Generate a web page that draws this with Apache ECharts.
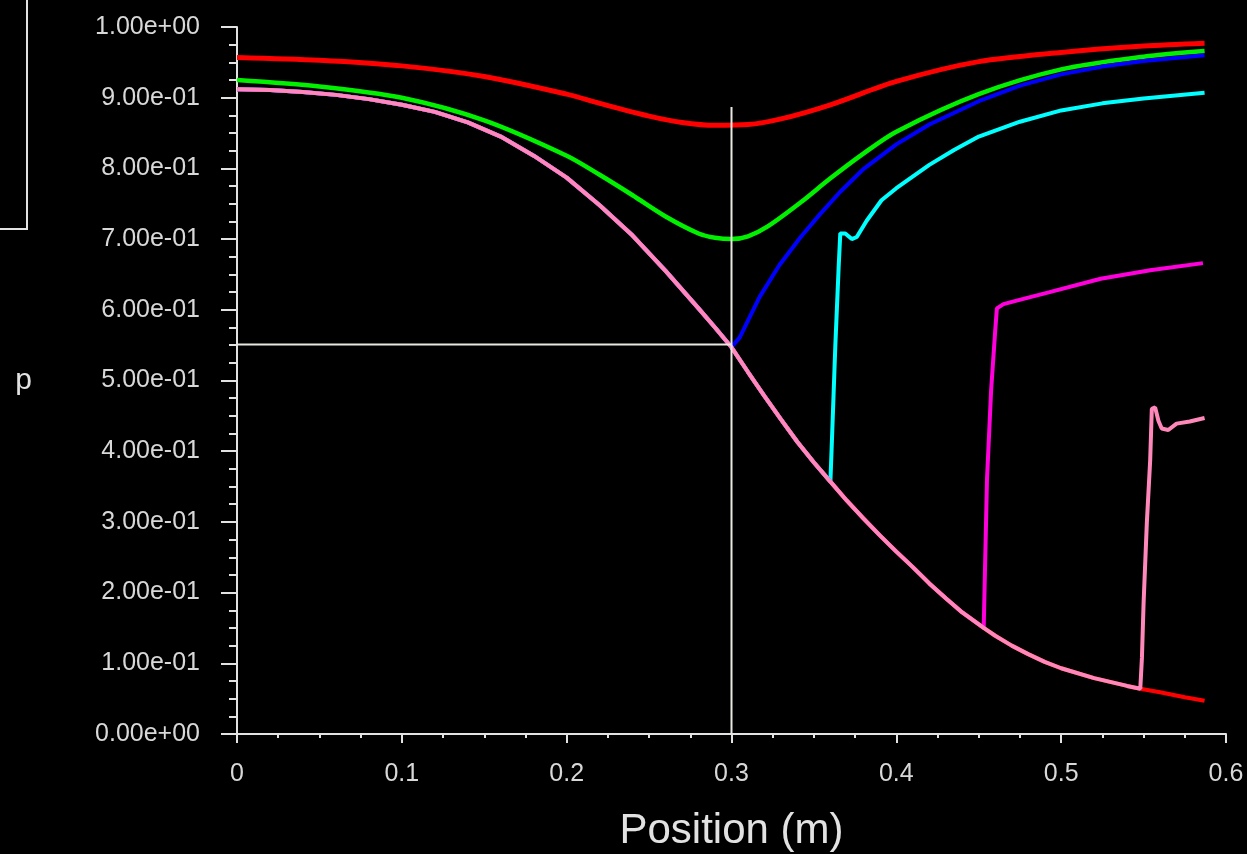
<!DOCTYPE html>
<html>
<head>
<meta charset="utf-8">
<script src="https://cdn.jsdelivr.net/npm/echarts@6/dist/echarts.min.js"></script>
<style>
html,body{margin:0;padding:0;background:#000;}
#chart{width:1247px;height:854px;}
</style>
</head>
<body>
<div id="chart"></div>
<script>
// ---- data (Position in m, p) ----
var xTickLabels = ['0', '0.1', '0.2', '0.3', '0.4', '0.5', '0.6'];
var yTickLabels = ['0.00e+00','1.00e-01','2.00e-01','3.00e-01','4.00e-01','5.00e-01',
                   '6.00e-01','7.00e-01','8.00e-01','9.00e-01','1.00e+00'];

// shared supersonic (lower) branch
var lowerBranch = [
  [0,0.912],[0.02,0.911],[0.04,0.908],[0.06,0.904],[0.08,0.898],[0.10,0.890],
  [0.12,0.880],[0.14,0.865],[0.16,0.845],[0.18,0.818],[0.20,0.787],[0.22,0.748],
  [0.24,0.705],[0.26,0.655],[0.28,0.602],[0.29,0.575],[0.30,0.547],[0.31,0.512],
  [0.32,0.478],[0.33,0.445],[0.34,0.413],[0.35,0.384],[0.36,0.357],[0.37,0.330],
  [0.38,0.305],[0.39,0.281],[0.40,0.258],[0.41,0.236],[0.42,0.213],[0.43,0.192],
  [0.44,0.172],[0.453,0.150],[0.46,0.139],[0.47,0.125],[0.48,0.113],[0.49,0.102],
  [0.50,0.093],[0.52,0.079],[0.54,0.068],[0.548,0.064],[0.56,0.059],
  [0.575,0.052],[0.587,0.047]
];

var redTop = [
  [0,0.957],[0.05,0.953],[0.10,0.945],[0.15,0.930],[0.20,0.905],[0.22,0.892],
  [0.25,0.874],[0.27,0.865],[0.29,0.861],[0.31,0.862],[0.33,0.870],[0.36,0.890],
  [0.40,0.923],[0.45,0.951],[0.50,0.964],[0.55,0.973],[0.587,0.977]
];

var green = [
  [0,0.925],[0.05,0.916],[0.10,0.900],[0.15,0.868],[0.20,0.818],[0.22,0.791],
  [0.24,0.762],[0.26,0.732],[0.28,0.708],[0.29,0.702],[0.30,0.700],[0.31,0.704],
  [0.322,0.718],[0.342,0.752],[0.36,0.786],[0.38,0.821],[0.40,0.852],
  [0.45,0.905],[0.50,0.940],[0.55,0.958],[0.587,0.966]
];

var blueUpper = [
  [0.305,0.561],[0.317,0.618],[0.329,0.663],[0.342,0.703],[0.354,0.736],
  [0.366,0.767],[0.38,0.799],[0.40,0.834],[0.42,0.862],
  [0.45,0.895],[0.475,0.917],[0.50,0.933],[0.525,0.944],[0.55,0.952],[0.587,0.960]
];

var cyanUpper = [
  [0.361,0.420],[0.363,0.550],[0.365,0.660],[0.366,0.708],[0.369,0.708],
  [0.373,0.700],[0.376,0.703],[0.382,0.726],[0.391,0.755],[0.40,0.772],
  [0.42,0.805],[0.435,0.826],[0.45,0.845],[0.475,0.866],[0.50,0.882],
  [0.525,0.892],[0.55,0.899],[0.587,0.907]
];

var magentaUpper = [
  [0.455,0.360],[0.4575,0.486],[0.460,0.571],[0.461,0.602],[0.465,0.608],
  [0.473,0.613],[0.493,0.625],[0.524,0.644],[0.554,0.656],[0.586,0.666]
];

var pinkUpper = [
  [0.549,0.108],[0.550,0.185],[0.552,0.300],[0.554,0.387],[0.555,0.460],
  [0.557,0.462],[0.559,0.443],[0.561,0.432],[0.565,0.430],[0.570,0.439],
  [0.578,0.442],[0.587,0.447]
];

var crossX = 0.3;
var crossTop = 0.887;
var crossP = 0.551;

function lowerUpTo(x) {
  return lowerBranch.filter(function (p) { return p[0] <= x; });
}

var chart = echarts.init(document.getElementById('chart'));
var FONT = 'Liberation Sans';
var AX = '#e2e2e2';

function lineSeries(data, color, width, z, smooth) {
  return {
    type: 'line', data: data, showSymbol: false, symbol: 'none',
    smooth: smooth || false,
    lineStyle: { color: color, width: width }, z: z, silent: true
  };
}

chart.setOption({
  backgroundColor: '#000',
  animation: false,
  grid: { left: 237, right: 21, top: 27, bottom: 120, containLabel: false, outerBoundsMode: 'none' },
  xAxis: {
    type: 'value', min: 0, max: 0.6, interval: 0.1,
    name: 'Position (m)', nameLocation: 'middle', nameGap: 76,
    nameTextStyle: { color: AX, fontFamily: FONT, fontSize: 42 },
    axisLine: { show: true, onZero: false, lineStyle: { color: AX, width: 2 } },
    axisTick: { show: true, length: 9, lineStyle: { color: AX, width: 2 } },
    minorTick: { show: true, splitNumber: 4, length: 4, lineStyle: { color: AX, width: 2 } },
    splitLine: { show: false },
    axisLabel: {
      color: '#d8d8d8', fontFamily: FONT, fontSize: 25, margin: 28,
      formatter: function (v) { return xTickLabels[Math.round(v * 10)]; }
    }
  },
  yAxis: {
    type: 'value', min: 0, max: 1, interval: 0.1,
    name: 'p', nameLocation: 'middle', nameGap: 205, nameRotate: 0,
    nameTextStyle: { color: AX, fontFamily: FONT, fontSize: 30 },
    axisLine: { show: true, onZero: false, lineStyle: { color: AX, width: 2 } },
    axisTick: { show: true, length: 16, lineStyle: { color: AX, width: 2 } },
    minorTick: { show: true, splitNumber: 4, length: 8, lineStyle: { color: AX, width: 2 } },
    splitLine: { show: false },
    axisLabel: {
      color: '#d8d8d8', fontFamily: FONT, fontSize: 25, margin: 37,
      formatter: function (v) { return yTickLabels[Math.round(v * 10)]; }
    }
  },
  graphic: [{
    type: 'polyline',
    shape: { points: [[27, 0], [27, 229], [0, 229]] },
    style: { stroke: '#e2e2e2', lineWidth: 2, fill: null },
    silent: true
  }],
  series: [
    lineSeries(lowerBranch, '#ff0000', 4, 2),
    lineSeries(redTop, '#ff0000', 5, 3, 0.3),
    lineSeries(green, '#00f000', 4.5, 3, 0.3),
    lineSeries(lowerUpTo(0.30).concat(blueUpper), '#0000ff', 4, 4),
    lineSeries(lowerUpTo(0.36).concat(cyanUpper), '#00ffff', 4, 5),
    lineSeries(lowerUpTo(0.453).concat(magentaUpper), '#ff00dd', 4, 6),
    lineSeries(lowerUpTo(0.548).concat(pinkUpper), '#ff88bb', 4, 7),
    lineSeries([[crossX, crossTop], [crossX, 0]], '#e8e8e0', 2, 8),
    lineSeries([[0, crossP], [crossX, crossP]], '#e8e8e0', 2, 8)
  ]
});
</script>
</body>
</html>
